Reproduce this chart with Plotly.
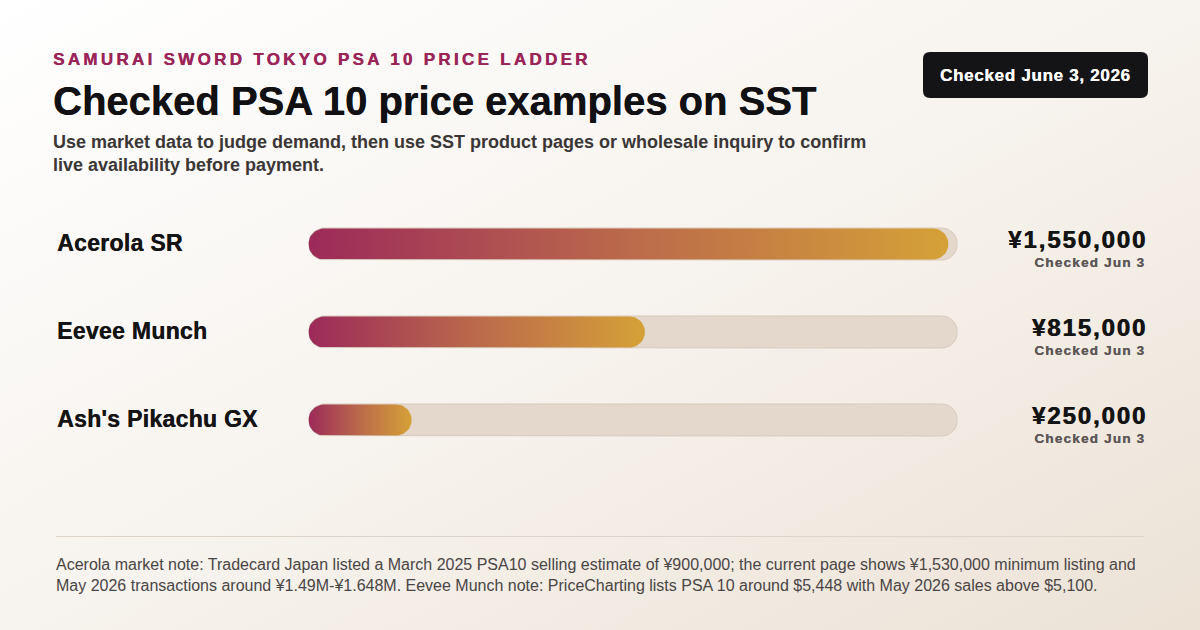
import base64
import json
import math
import plotly.graph_objects as go

# ---------------- data ----------------
cards = ["Acerola SR", "Eevee Munch", "Ash's Pikachu GX"]
prices_jpy = [1550000, 815000, 250000]
checked_notes = ["Checked Jun 3", "Checked Jun 3", "Checked Jun 3"]
axis_max_jpy = 1572000

eyebrow = "SAMURAI SWORD TOKYO PSA 10 PRICE LADDER"
title = "Checked PSA 10 price examples on SST"
subtitle = ("Use market data to judge demand, then use SST product pages or wholesale inquiry to confirm<br>"
            "live availability before payment.")
badge = "Checked June 3, 2026"
footnote = ("Acerola market note: Tradecard Japan listed a March 2025 PSA10 selling estimate of ¥900,000; "
            "the current page shows ¥1,530,000 minimum listing and<br>May 2026 transactions around "
            "¥1.49M-¥1.648M. Eevee Munch note: PriceCharting lists PSA 10 around $5,448 with May 2026 sales above $5,100.")

# ---------------- layout constants ----------------
W, H = 1200, 630
TRACK_X0, TRACK_X1 = 308.5, 957.5
ROW_Y0, ROW_STEP = 244, 88
BAR_R = 16
FONT = "Liberation Sans, Arial, sans-serif"
C_START, C_END = "#9c2a5a", "#d5a137"
TRACK_FILL, TRACK_LINE = "#e3d8cb", "#d7c9ba"


def px(x):
    return x / W


def py(y):
    return 1 - y / H


units_per_px = axis_max_jpy / (TRACK_X1 - TRACK_X0)


def pill(x0, x1, yc, r):
    rx = r * units_per_px
    xs, ys = [], []
    n = 28
    for i in range(n + 1):
        a = -math.pi / 2 + math.pi * i / n
        xs.append(x1 - rx + rx * math.cos(a))
        ys.append(yc + r * math.sin(a))
    for i in range(n + 1):
        a = math.pi / 2 + math.pi * i / n
        xs.append(x0 + rx + rx * math.cos(a))
        ys.append(yc + r * math.sin(a))
    xs.append(xs[0])
    ys.append(ys[0])
    return xs, ys


fig = go.Figure()

for i, (name, val) in enumerate(zip(cards, prices_jpy)):
    yc = ROW_Y0 + ROW_STEP * i
    tx, ty = pill(0, axis_max_jpy, yc, BAR_R)
    fig.add_trace(go.Scatter(x=tx, y=ty, mode="lines", fill="toself",
                             fillcolor=TRACK_FILL, line=dict(color=TRACK_LINE, width=1),
                             hoverinfo="skip", showlegend=False))
    fx, fy = pill(0, val, yc, BAR_R - 0.5)
    fig.add_trace(go.Scatter(x=fx, y=fy, mode="lines", fill="toself",
                             fillgradient=dict(type="horizontal",
                                               colorscale=[[0, C_START], [0.5, "#bb6a4b"], [1, C_END]]),
                             line=dict(width=0, color="rgba(0,0,0,0)"),
                             name=name, hovertemplate=f"{name}: ¥%{{customdata:,}}<extra></extra>",
                             customdata=[val] * len(fx), showlegend=False))

annotations = []
spacing = {}


def add_ann(text, x, y, size, color, xanchor="left", align="left", weight="bold", ls=None, shadow=None):
    if ls is not None:
        spacing[str(len(annotations))] = ls
    font = dict(family=FONT, size=size, color=color, weight=weight)
    if shadow:
        font["shadow"] = shadow
    annotations.append(dict(text=text, x=px(x), y=py(y), xref="paper", yref="paper",
                            xanchor=xanchor, yanchor="middle", align=align, showarrow=False,
                            font=font))


add_ann(eyebrow, 51, 59, 17, "#9b2458", ls="3.3px", shadow="0.4px 0 0 #9b2458")
add_ann(title, 51, 101, 40, "#111114", shadow="0.3px 0 0 #111114")
add_ann(subtitle, 51, 153, 18, "#3b3636")
add_ann(badge, 1035.5, 75, 17, "#ffffff", xanchor="center", align="center", ls="0.7px",
        shadow="0.3px 0 0 #ffffff")

for i, (name, val, note) in enumerate(zip(cards, prices_jpy, checked_notes)):
    yc = ROW_Y0 + ROW_STEP * i
    add_ann(name, 54.5, yc - 1, 23, "#141414", ls="0.3px", shadow="0.4px 0 0 #141414")
    add_ann(f"¥{val:,}", 1148.5, yc - 5, 24, "#141414", xanchor="right", align="right", ls="1.9px",
            shadow="0.6px 0 0 #141414")
    add_ann(note, 1147.5, yc + 18, 13.5, "#5d5757", xanchor="right", align="right", ls="1.2px",
            shadow="0.2px 0 0 #5d5757")

add_ann(footnote, 54, 574.5, 16, "#4a4545", weight="normal")

# badge rounded rectangle
bx0, bx1, by0, by1, br = 923, 1148, 52, 98, 7
badge_path = (f"M {px(bx0 + br)} {py(by0)} L {px(bx1 - br)} {py(by0)} "
              f"Q {px(bx1)} {py(by0)} {px(bx1)} {py(by0 + br)} L {px(bx1)} {py(by1 - br)} "
              f"Q {px(bx1)} {py(by1)} {px(bx1 - br)} {py(by1)} L {px(bx0 + br)} {py(by1)} "
              f"Q {px(bx0)} {py(by1)} {px(bx0)} {py(by1 - br)} L {px(bx0)} {py(by0 + br)} "
              f"Q {px(bx0)} {py(by0)} {px(bx0 + br)} {py(by0)} Z")

shapes = [
    dict(type="path", path=badge_path, xref="paper", yref="paper",
         fillcolor="#141417", line=dict(width=0), layer="below"),
    dict(type="line", x0=px(56), x1=px(1144), y0=py(536.5), y1=py(536.5), xref="paper", yref="paper",
         line=dict(color="#ddd3c8", width=1), layer="below"),
]

svg = ('<svg xmlns="http://www.w3.org/2000/svg" width="1200" height="630" preserveAspectRatio="none">'
       '<defs><linearGradient id="g" x1="0" y1="0" x2="1" y2="1">'
       '<stop offset="0" stop-color="#ffffff"/><stop offset="0.5" stop-color="#f7f3ee"/>'
       '<stop offset="1" stop-color="#ece2d6"/></linearGradient></defs>'
       '<rect width="1200" height="630" fill="url(#g)"/></svg>')
bg_src = "data:image/svg+xml;base64," + base64.b64encode(svg.encode()).decode()

fig.update_layout(
    width=W, height=H, margin=dict(l=0, r=0, t=0, b=0),
    paper_bgcolor="#f7f3ee", plot_bgcolor="rgba(0,0,0,0)",
    xaxis=dict(domain=[px(TRACK_X0), px(TRACK_X1)], range=[0, axis_max_jpy], visible=False, fixedrange=True),
    yaxis=dict(domain=[0, 1], range=[H, 0], visible=False, fixedrange=True),
    annotations=annotations, shapes=shapes,
    images=[dict(source=bg_src, xref="paper", yref="paper", x=0, y=1, sizex=1, sizey=1,
                 xanchor="left", yanchor="top", sizing="stretch", layer="below")],
    showlegend=False,
)

post = """
var gd = document.getElementById('{plot_id}');
var sp = SPACING;
function applySp(){
  Object.keys(sp).forEach(function(k){
    var t = gd.querySelector('g.annotation[data-index="' + k + '"] text.annotation-text');
    if (t) { t.style.letterSpacing = sp[k]; }
  });
}
applySp();
if (gd.on) { gd.on('plotly_afterplot', applySp); }
""".replace("SPACING", json.dumps(spacing))

fig.write_html("out.html", post_script=post, config={"displayModeBar": False})
